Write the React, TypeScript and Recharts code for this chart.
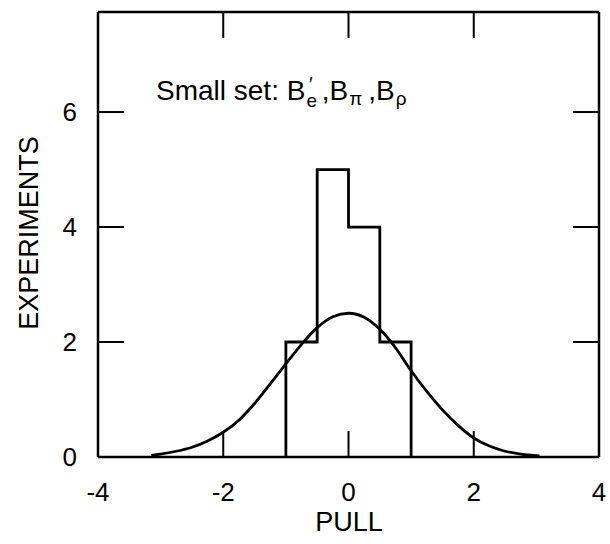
import React from 'react';
import { LineChart, Line, XAxis, YAxis, Label } from 'recharts';

// histogram bins (edges + counts)
const binEdges = [-1, -0.5, 0, 0.5, 1];
const binCounts = [2, 5, 4, 2];

// expected gaussian curve, sampled by eye
const curvePull = [-3.15, -3, -2.75, -2.5, -2.25, -2, -1.75, -1.5, -1.25, -1, -0.75, -0.5, -0.25, 0, 0.25, 0.5, 0.75, 1, 1.25, 1.5, 1.75, 2, 2.25, 2.5, 2.75, 3.05];
const curveExperiments = [0.03, 0.05, 0.1, 0.17, 0.28, 0.43, 0.64, 0.93, 1.27, 1.62, 1.96, 2.25, 2.44, 2.5, 2.43, 2.22, 1.9, 1.5, 1.14, 0.82, 0.55, 0.33, 0.19, 0.1, 0.05, 0.02];

const xTicks = [-4, -2, 0, 2, 4];
const yTicks = [0, 2, 4, 6];
const yMax = 7.74;

const FONT = '"Liberation Sans", Arial, Helvetica, sans-serif';
const TICK_LEN = 26;
const TICK_W = 2;

const CHART_W = 610;
const CHART_H = 544;
const MARGIN = { top: 11, right: 10, bottom: 0, left: 0 };
const X_AXIS_H = 87;
const TOP_AXIS_H = 1;
// distance between the top frame line and the bottom frame line
const PLOT_H = CHART_H - MARGIN.top - MARGIN.bottom - X_AXIS_H - TOP_AXIS_H;

const histData = [
  { x: binEdges[0], y: 0 },
  ...binCounts.map((c, i) => ({ x: binEdges[i], y: c })),
  { x: binEdges[binEdges.length - 1], y: 0 },
];

const curveData = curvePull.map((x, i) => ({ x, y: curveExperiments[i] }));

const BottomTick = (props: any) => {
  const { x, y, payload } = props;
  const v = Number(payload.value);
  return (
    <text x={x} y={y + 35} textAnchor="middle" dominantBaseline="central" fontSize={26} fontFamily={FONT} fill="#000">
      {v}
    </text>
  );
};

// inner tick marks for both the top and bottom frame lines
const TopTick = (props: any) => {
  const { x, y, payload } = props;
  const v = Number(payload.value);
  if (v <= -4 || v >= 4) return <g />;
  const yBottom = y + PLOT_H;
  return (
    <g>
      <path d={`M${x},${y}V${y + TICK_LEN}`} stroke="#000" strokeWidth={TICK_W} fill="none" />
      <path d={`M${x},${yBottom}V${yBottom - TICK_LEN}`} stroke="#000" strokeWidth={TICK_W} fill="none" />
    </g>
  );
};

const LeftTick = (props: any) => {
  const { x, y, payload } = props;
  const v = Number(payload.value);
  return (
    <g>
      {v > 0 && <path d={`M${x},${y}H${x + TICK_LEN}`} stroke="#000" strokeWidth={TICK_W} fill="none" />}
      <text x={x - 21} y={y} textAnchor="end" dominantBaseline="central" fontSize={26} fontFamily={FONT} fill="#000">
        {v}
      </text>
    </g>
  );
};

const RightTick = (props: any) => {
  const { x, y, payload } = props;
  const v = Number(payload.value);
  if (v <= 0) return <g />;
  return <path d={`M${x},${y}H${x - TICK_LEN}`} stroke="#000" strokeWidth={TICK_W} fill="none" />;
};

export default function App() {
  return (
    <div style={{ position: 'fixed', left: 0, top: 0, width: CHART_W, height: CHART_H, background: '#fff' }}>
      <LineChart width={CHART_W} height={CHART_H} margin={MARGIN}>
        <XAxis
          xAxisId="bottom"
          type="number"
          dataKey="x"
          domain={[-4, 4]}
          ticks={xTicks}
          allowDataOverflow
          height={X_AXIS_H}
          tickSize={0}
          tickMargin={0}
          tickLine={false}
          axisLine={{ stroke: '#000', strokeWidth: 2.5 }}
          tick={<BottomTick />}
        >
          <Label
            content={() => (
              <text x={349} y={522} textAnchor="middle" dominantBaseline="central" fontSize={27} fontFamily={FONT} fill="#000">
                PULL
              </text>
            )}
          />
        </XAxis>
        <XAxis
          xAxisId="top"
          orientation="top"
          type="number"
          dataKey="x"
          domain={[-4, 4]}
          ticks={xTicks}
          allowDataOverflow
          height={TOP_AXIS_H}
          tickSize={0}
          tickMargin={0}
          tickLine={false}
          axisLine={{ stroke: '#000', strokeWidth: 2.5 }}
          tick={<TopTick />}
        />
        <YAxis
          yAxisId="left"
          type="number"
          domain={[0, yMax]}
          ticks={yTicks}
          allowDataOverflow
          width={98}
          tickSize={0}
          tickMargin={0}
          tickLine={false}
          axisLine={{ stroke: '#000', strokeWidth: 2.5 }}
          tick={<LeftTick />}
        >
          <Label
            content={() => (
              <text
                x={29}
                y={233}
                transform="rotate(-90 29 233)"
                textAnchor="middle"
                dominantBaseline="central"
                fontSize={27}
                fontFamily={FONT}
                fill="#000"
              >
                EXPERIMENTS
              </text>
            )}
          />
        </YAxis>
        <YAxis
          yAxisId="right"
          orientation="right"
          type="number"
          domain={[0, yMax]}
          ticks={yTicks}
          allowDataOverflow
          width={1}
          tickSize={0}
          tickMargin={0}
          tickLine={false}
          axisLine={{ stroke: '#000', strokeWidth: 2.5 }}
          tick={<RightTick />}
        />
        {/* invisible series so the top/right frame axes get drawn */}
        <Line
          xAxisId="top"
          yAxisId="right"
          data={curveData}
          dataKey="y"
          stroke="none"
          dot={false}
          activeDot={false}
          isAnimationActive={false}
        />
        <Line
          xAxisId="bottom"
          yAxisId="left"
          data={histData}
          dataKey="y"
          type="stepAfter"
          stroke="#000"
          strokeWidth={2.8}
          dot={false}
          isAnimationActive={false}
        />
        <Line
          xAxisId="bottom"
          yAxisId="left"
          data={curveData}
          dataKey="y"
          type="monotone"
          stroke="#000"
          strokeWidth={2.8}
          dot={false}
          isAnimationActive={false}
        />
      </LineChart>
      <svg width={CHART_W} height={CHART_H} style={{ position: 'absolute', left: 0, top: 0, pointerEvents: 'none' }}>
        <text x={156} y={100} fontSize={28} fontFamily={FONT} fill="#000">
          Small set: B
          <tspan dx={1} dy={7} fontSize={19}>e</tspan>
          <tspan dx={-8} dy={-16} fontSize={20}>′</tspan>
          <tspan dx={9} dy={9} fontSize={28}>,B</tspan>
          <tspan dx={1} dy={5} fontSize={19}>π</tspan>
          <tspan dx={6} dy={-5} fontSize={28}>,B</tspan>
          <tspan dx={1} dy={5} fontSize={19}>ρ</tspan>
        </text>
      </svg>
    </div>
  );
}
